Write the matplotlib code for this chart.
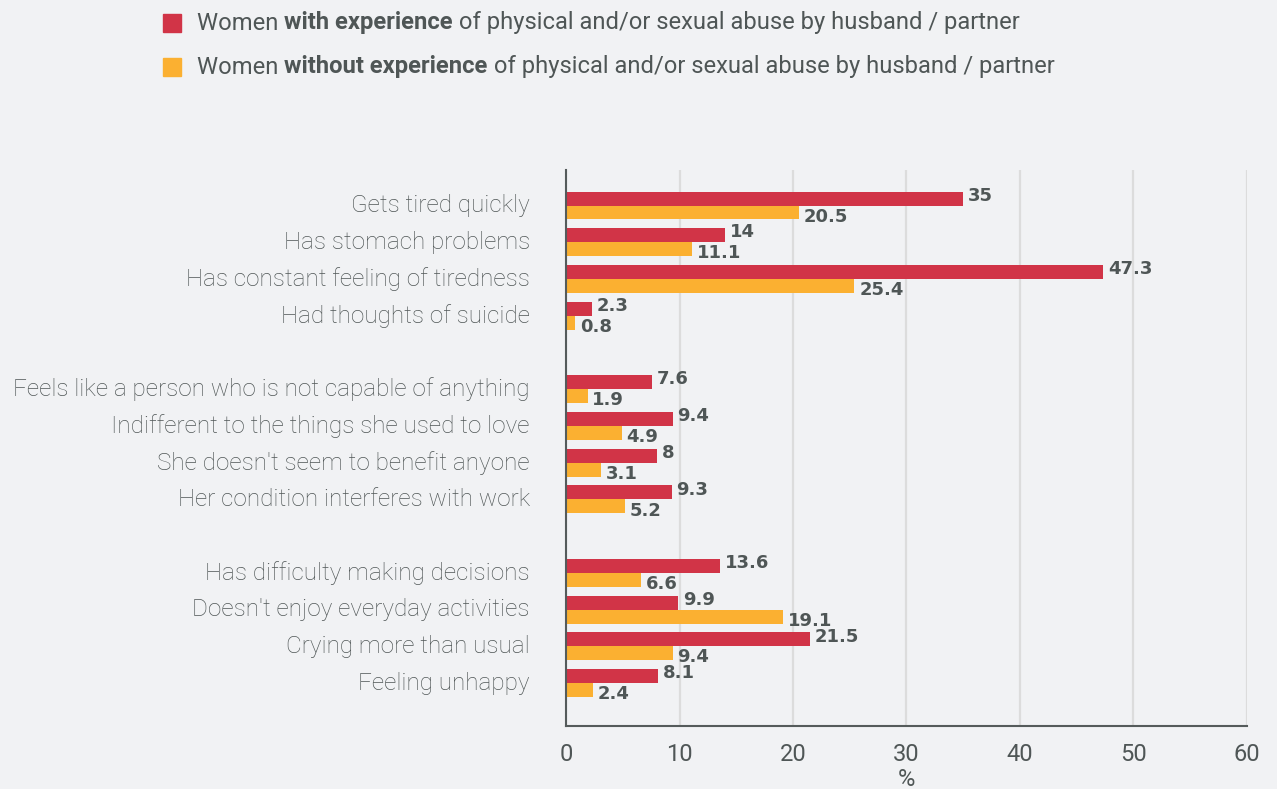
import matplotlib.pyplot as plt
from matplotlib.patches import Rectangle

# Data
categories = [
    "Gets tired quickly",
    "Has stomach problems",
    "Has constant feeling of tiredness",
    "Had thoughts of suicide",
    "Feels like a person who is not capable of anything",
    "Indifferent to the things she used to love",
    "She doesn't seem to benefit anyone",
    "Her condition interferes with work",
    "Has difficulty making decisions",
    "Doesn't enjoy everyday activities",
    "Crying more than usual",
    "Feeling unhappy",
]
with_abuse = [35, 14, 47.3, 2.3, 7.6, 9.4, 8, 9.3, 13.6, 9.9, 21.5, 8.1]
without_abuse = [20.5, 11.1, 25.4, 0.8, 1.9, 4.9, 3.1, 5.2, 6.6, 19.1, 9.4, 2.4]
x_ticks = [0, 10, 20, 30, 40, 50, 60]

red = '#d13447'
orange = '#fbb031'
text_col = '#4f5656'
bg = '#f1f2f4'

# groups of four, with an empty slot between groups
pos = [i + i // 4 for i in range(len(categories))]
h = 0.38

fig = plt.figure(figsize=(12.77, 7.89), dpi=100, facecolor=bg)
ax = fig.add_axes([566 / 1277, 1 - 726 / 789, 681 / 1277, 556 / 789], facecolor=bg)

ax.barh([p - h / 2 for p in pos], with_abuse, height=h, color=red, zorder=3)
ax.barh([p + h / 2 for p in pos], without_abuse, height=h, color=orange, zorder=3)

for p, v in zip(pos, with_abuse):
    ax.annotate(f"{v:g}", (v, p - h / 2), xytext=(3.5, 2), textcoords='offset points',
                va='center', ha='left', fontsize=13, fontweight='bold',
                family='DejaVu Sans', color=text_col, zorder=4)
for p, v in zip(pos, without_abuse):
    ax.annotate(f"{v:g}", (v, p + h / 2), xytext=(3.5, -3), textcoords='offset points',
                va='center', ha='left', fontsize=13, fontweight='bold',
                family='DejaVu Sans', color=text_col, zorder=4)

ax.set_xlim(0, 60)
ax.set_ylim(14.17, -0.967)
ax.set_xticks(x_ticks)
ax.set_xticklabels([str(t) for t in x_ticks], fontsize=17, family='Roboto', color=text_col)
ax.set_yticks([p - 0.06 for p in pos])
ax.set_yticklabels(categories, fontsize=17.5, family='Roboto', fontweight='light', color=text_col)
ax.tick_params(axis='y', length=0, pad=26)
ax.tick_params(axis='x', length=0, pad=12)
ax.set_xlabel('%', fontsize=17, family='Roboto', color=text_col, labelpad=2)

ax.grid(axis='x', color='#dcdcdc', linewidth=1.6, zorder=0)
for s in ['top', 'right']:
    ax.spines[s].set_visible(False)
for s in ['left', 'bottom']:
    ax.spines[s].set_color('#555b5b')
    ax.spines[s].set_linewidth(1.5)
    ax.spines[s].set_zorder(5)

# Legend with partly bold text
legend_rows = [
    (red, ["Women ", "with experience", " of physical and/or sexual abuse by husband / partner"]),
    (orange, ["Women ", "without experience", " of physical and/or sexual abuse by husband / partner"]),
]
for k, (col, parts) in enumerate(legend_rows):
    yc = 1 - (23 + 44 * k) / 789
    fig.patches.append(Rectangle((163 / 1277, yc - 9 / 789), 18 / 1277, 18 / 789,
                                 transform=fig.transFigure, color=col))
    prev = fig.text(197 / 1277, yc, parts[0], fontsize=17.1, family='Roboto',
                    color=text_col, va='center', ha='left')
    for j, txt in enumerate(parts[1:]):
        prev = fig.text(0, 0, txt, fontsize=17.1, family='Roboto',
                        fontweight='bold' if j == 0 else 'normal', color=text_col,
                        va='center', ha='left')
        fig.canvas.draw()
        bb = fig.texts[-2].get_window_extent()
        prev.set_position((bb.x1 / fig.bbox.width, yc))

fig.savefig('out.png', dpi=100, facecolor=bg)
